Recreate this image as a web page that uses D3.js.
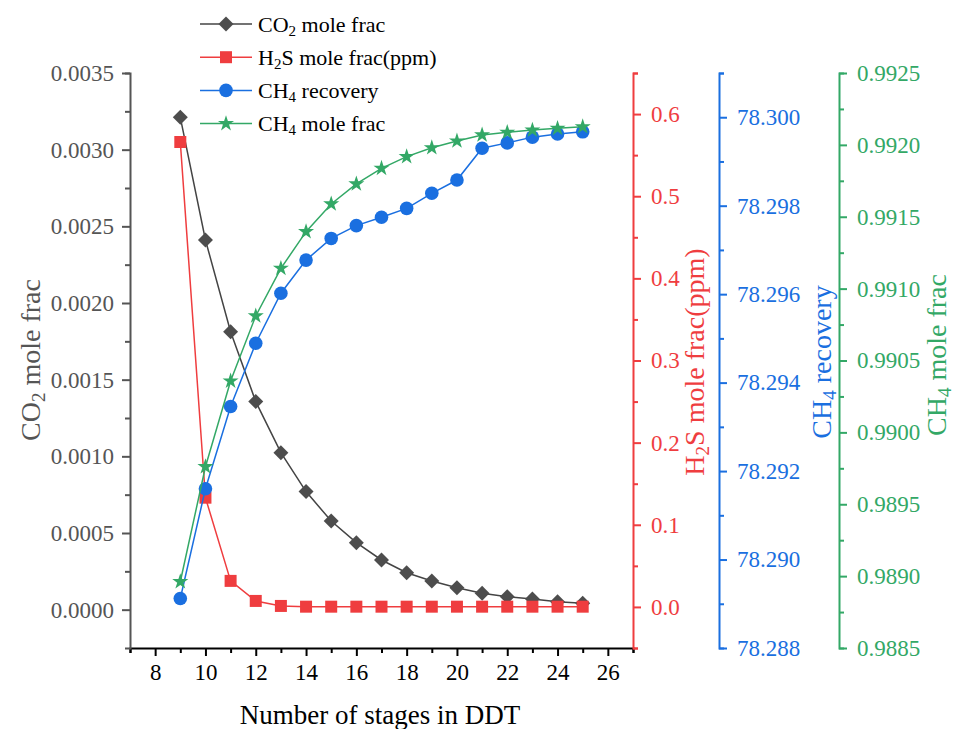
<!DOCTYPE html>
<html>
<head>
<meta charset="utf-8">
<script src="https://cdn.jsdelivr.net/npm/d3@7"></script>
<style>
  body { margin: 0; background: #fff; }
  svg text { font-family: "Liberation Serif", serif !important; }
</style>
</head>
<body>
<div id="chartplace"></div>
<script>
// number of stages
var stages = [9, 10, 11, 12, 13, 14, 15, 16, 17, 18, 19, 20, 21, 22, 23, 24, 25];

// CO2 mole fraction (left axis)
var co2Frac = [0.003211, 0.002411, 0.001813, 0.001357, 0.001024, 0.000770, 0.000578, 0.000437,
  0.000324, 0.000241, 0.000187, 0.000143, 0.000107, 0.000085, 0.000070, 0.000052, 0.000042];
// H2S mole fraction, ppm
var h2sPpm = [0.566, 0.133, 0.0317, 0.0073, 0.0012, 0.0003, 0.0003, 0.0003,
  0.0003, 0.0003, 0.0003, 0.0003, 0.0003, 0.0003, 0.0003, 0.0003, 0.0003];
// CH4 recovery
var ch4Recovery = [78.28912, 78.29160, 78.29346, 78.29489, 78.29602, 78.29677, 78.29726, 78.29755,
  78.29774, 78.29794, 78.29828, 78.29858, 78.29930, 78.29942, 78.29955, 78.29962, 78.29967];
// CH4 mole fraction
var ch4Frac = [0.988961, 0.989761, 0.990357, 0.990810, 0.991141, 0.991396, 0.991589, 0.991728,
  0.991837, 0.991918, 0.991980, 0.992027, 0.992069, 0.992087, 0.992103, 0.992115, 0.992126];

// tick values
var xMajor = [8, 10, 12, 14, 16, 18, 20, 22, 24, 26];
var xMinor = [7, 9, 11, 13, 15, 17, 19, 21, 23, 25, 27];
var co2Major = [0, 0.0005, 0.001, 0.0015, 0.002, 0.0025, 0.003, 0.0035];
var co2Minor = [0.00025, 0.00075, 0.00125, 0.00175, 0.00225, 0.00275, 0.00325];
var h2sMajor = [0, 0.1, 0.2, 0.3, 0.4, 0.5, 0.6];
var h2sMinor = [-0.05, 0.05, 0.15, 0.25, 0.35, 0.45, 0.55, 0.65];
var recMajor = [78.288, 78.290, 78.292, 78.294, 78.296, 78.298, 78.300];
var recMinor = [78.289, 78.291, 78.293, 78.295, 78.297, 78.299, 78.301];
var fracMajor = [0.9885, 0.9890, 0.9895, 0.9900, 0.9905, 0.9910, 0.9915, 0.9920, 0.9925];
var fracMinor = [0.98875, 0.98925, 0.98975, 0.99025, 0.99075, 0.99125, 0.99175, 0.99225];

var width = 955, height = 729;
var plotL = 130, plotR = 633, plotT = 73, plotB = 648;
var serif = "Liberation Serif, serif";

var cGray = "#4d4d4d", cRed = "#ef3d3f", cBlue = "#1a6fe0", cGreen = "#33a866";

var svg = d3.select("#chartplace").append("svg")
  .attr("width", width).attr("height", height)
  .attr("font-family", serif);

var x = d3.scaleLinear().domain([7, 27]).range([plotL, plotR]);
var yCo2 = d3.scaleLinear().domain([-0.00025, 0.0035]).range([plotB, plotT]);
var yH2s = d3.scaleLinear().domain([-0.05, 0.65]).range([plotB, plotT]);
var yRec = d3.scaleLinear().domain([78.288, 78.301]).range([plotB, plotT]);
var yFrac = d3.scaleLinear().domain([0.9885, 0.9925]).range([plotB, plotT]);

function styleAxis(g, color, size) {
  g.attr("font-family", serif);
  g.selectAll("g").attr("font-family", serif);
  g.selectAll(".domain").attr("stroke", color).attr("stroke-width", 2);
  g.selectAll(".tick line").attr("stroke", color).attr("stroke-width", 2);
  g.selectAll(".tick text").attr("fill", color).attr("font-size", size)
    .attr("font-family", serif);
}

// x axis
var gx = svg.append("g").attr("transform", "translate(0," + plotB + ")");
gx.call(d3.axisBottom(x).tickValues(xMinor).tickSize(5).tickFormat(""));
gx.append("g").call(d3.axisBottom(x).tickValues(xMajor).tickSize(8).tickPadding(8).tickFormat(d3.format("d")));
styleAxis(gx, "#000", 23);
gx.selectAll("g g .domain").remove();

// left axis (CO2)
var gl = svg.append("g").attr("transform", "translate(" + plotL + ",0)");
gl.call(d3.axisLeft(yCo2).tickValues(co2Minor).tickSize(5).tickFormat(""));
gl.append("g").call(d3.axisLeft(yCo2).tickValues(co2Major).tickSize(8).tickPadding(8).tickFormat(d3.format(".4f")));
styleAxis(gl, "#555", 23);
gl.selectAll("g g .domain").remove();

// right axes
function rightAxis(xpos, scale, major, minor, fmt, color) {
  var g = svg.append("g").attr("transform", "translate(" + xpos + ",0)");
  g.call(d3.axisRight(scale).tickValues(minor).tickSize(5).tickFormat(""));
  g.append("g").call(d3.axisRight(scale).tickValues(major).tickSize(8).tickPadding(10).tickFormat(d3.format(fmt)));
  styleAxis(g, color, 23);
  g.selectAll("g g .domain").remove();
  return g;
}
rightAxis(plotR, yH2s, h2sMajor, h2sMinor, ".1f", cRed);
rightAxis(719, yRec, recMajor, recMinor, ".3f", cBlue);
rightAxis(839, yFrac, fracMajor, fracMinor, ".4f", cGreen);

// axis titles, with subscripts
function title(xp, yp, rot, color, size, parts) {
  var t = svg.append("text")
    .attr("transform", "translate(" + xp + "," + yp + ") rotate(" + rot + ")")
    .attr("text-anchor", "middle").attr("fill", color)
    .attr("font-family", serif).attr("font-size", size);
  parts.forEach(function(p) {
    var s = t.append("tspan").text(p[0]);
    if (p[1]) s.attr("dy", "0.28em").attr("font-size", size * 0.68);
    else if (p[2]) s.attr("dy", "-0.19em");
  });
  return t;
}
title(40, 360, -90, "#555", 28, [["CO"], ["2", true], [" mole frac", false, true]]);
title(704, 362, -90, cRed, 28, [["H"], ["2", true], ["S mole frac(ppm)", false, true]]);
title(831, 362, -90, cBlue, 28, [["CH"], ["4", true], [" recovery", false, true]]);
title(946, 355, -90, cGreen, 28, [["CH"], ["4", true], [" mole frac", false, true]]);
svg.append("text").attr("x", 380).attr("y", 724).attr("text-anchor", "middle")
  .attr("fill", "#000").attr("font-family", serif).attr("font-size", 27)
  .text("Number of stages in DDT");

// series
var series = [
  {name: [["CO"], ["2", true], [" mole frac", false, true]], values: co2Frac, y: yCo2, color: cGray, line: "#444",
    sym: d3.symbolSquare, size: 112, rot: 45},
  {name: [["H"], ["2", true], ["S mole frac(ppm)", false, true]], values: h2sPpm, y: yH2s, color: cRed, line: cRed,
    sym: d3.symbolSquare, size: 144, rot: 0},
  {name: [["CH"], ["4", true], [" recovery", false, true]], values: ch4Recovery, y: yRec, color: cBlue, line: cBlue,
    sym: d3.symbolCircle, size: 145, rot: 0},
  {name: [["CH"], ["4", true], [" mole frac", false, true]], values: ch4Frac, y: yFrac, color: cGreen, line: cGreen,
    sym: d3.symbolStar, size: 80, rot: 0}
];

series.forEach(function(s) {
  var line = d3.line()
    .x(function(d, i) { return x(stages[i]); })
    .y(function(d) { return s.y(d); });
  svg.append("path")
    .attr("d", line(s.values))
    .attr("fill", "none")
    .attr("stroke", s.line)
    .attr("stroke-width", 1.5);
  svg.selectAll(null).data(s.values).enter().append("path")
    .attr("d", d3.symbol().type(s.sym).size(s.size))
    .attr("transform", function(d, i) {
      return "translate(" + x(stages[i]) + "," + s.y(d) + ") rotate(" + s.rot + ")";
    })
    .attr("fill", s.color);
});

// legend
series.forEach(function(s, i) {
  var ly = 24 + i * 33.2;
  svg.append("line").attr("x1", 200).attr("x2", 252).attr("y1", ly).attr("y2", ly)
    .attr("stroke", s.line).attr("stroke-width", 1.5);
  svg.append("path").attr("d", d3.symbol().type(s.sym).size(s.size))
    .attr("transform", "translate(226," + ly + ") rotate(" + s.rot + ")")
    .attr("fill", s.color);
  var t = svg.append("text").attr("x", 258).attr("y", ly + 7.5)
    .attr("fill", "#000").attr("font-family", serif).attr("font-size", 22);
  s.name.forEach(function(p) {
    var sp = t.append("tspan").text(p[0]);
    if (p[1]) sp.attr("dy", "0.28em").attr("font-size", 15);
    else if (p[2]) sp.attr("dy", "-0.19em");
  });
});
</script>
</body>
</html>
